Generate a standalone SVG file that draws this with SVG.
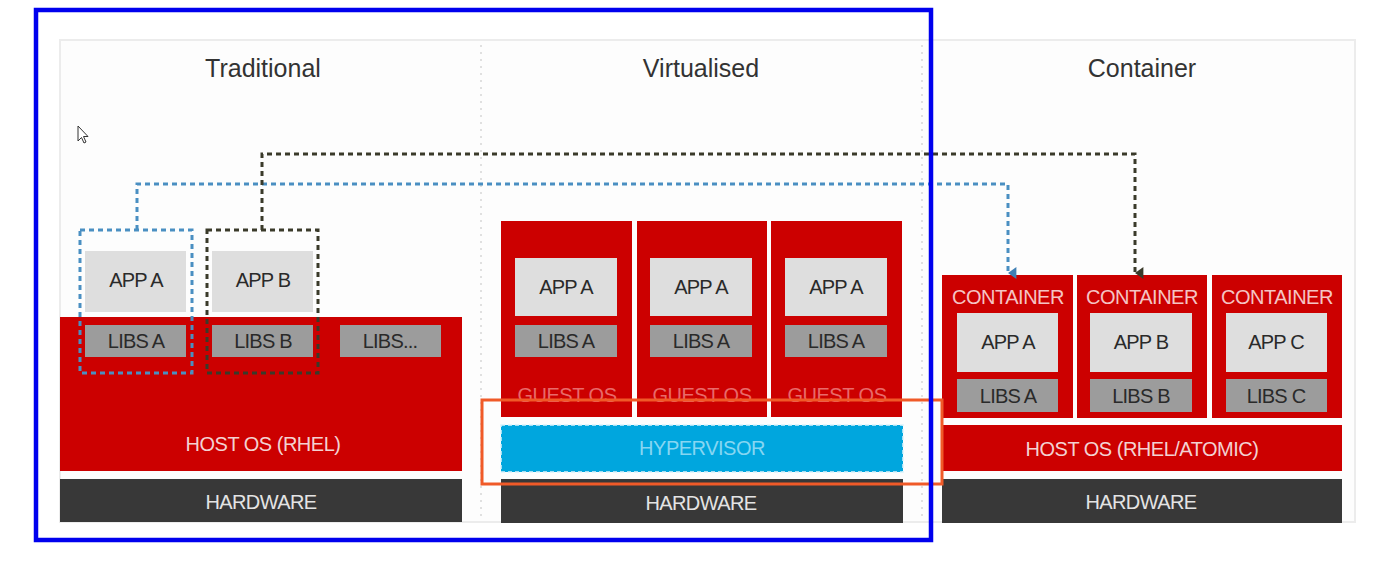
<svg xmlns="http://www.w3.org/2000/svg" width="1389" height="569" viewBox="0 0 1389 569">
<defs>
<style>
.t{font-family:"Liberation Sans",Arial,sans-serif;text-anchor:middle}
.title{font-size:25px;fill:#333}
.lbl{font-size:20px;fill:#2a2a2a;letter-spacing:-0.8px}
.red{fill:#cc0000}
.app{fill:#dedede}
.lib{fill:#9c9c9c}
.hw{fill:#383838}
.hwt{font-size:20px;fill:#e4e4e4;letter-spacing:-0.6px}
.ost{font-size:20px;fill:#f3d2d2;letter-spacing:-0.5px}
.sep{stroke:#d6d6d6;stroke-width:1.5;stroke-dasharray:2 5;fill:none}
.cb{stroke:#4a8fc2;stroke-width:3;stroke-dasharray:5 4;fill:none}
.cd{stroke:#3a3a2a;stroke-width:3;stroke-dasharray:5 4;fill:none}
</style>
<marker id="ab" viewBox="0 0 10 10" refX="5" refY="9" markerWidth="4" markerHeight="4" orient="auto-start-reverse" markerUnits="strokeWidth"><path d="M0,2 L10,2 L5,9 Z" fill="#3f7fb5"/></marker>
<marker id="ad" viewBox="0 0 10 10" refX="5" refY="9" markerWidth="4" markerHeight="4" orient="auto-start-reverse" markerUnits="strokeWidth"><path d="M0,2 L10,2 L5,9 Z" fill="#3a3a2a"/></marker>
</defs>
<rect x="0" y="0" width="1389" height="569" fill="#ffffff"/>
<rect x="60" y="40" width="1295" height="482" fill="#fdfdfd" stroke="#ececec" stroke-width="2"/>
<line class="sep" x1="481" y1="45" x2="481" y2="520"/>
<line class="sep" x1="922" y1="45" x2="922" y2="520"/>
<g id="titles">
<text class="t title" x="263" y="77">Traditional</text>
<text class="t title" x="701" y="77">Virtualised</text>
<text class="t title" x="1142" y="77">Container</text>
</g>
<path id="cursor" d="M78,126 L78,141 L81.5,137.5 L84,143 L86,142 L83.5,136.5 L88,136.5 Z" fill="#fff" stroke="#333" stroke-width="1"/>

<g id="traditional">
<g id="trad-hostos"><rect class="red" x="60" y="317" width="402" height="154"/><text class="t ost" x="263" y="451">HOST OS (RHEL)</text></g>
<g id="trad-hw"><rect class="hw" x="60" y="479" width="402" height="43"/><text class="t hwt" x="261" y="509">HARDWARE</text></g>
<g id="trad-appa"><rect class="app" x="85" y="251" width="101" height="61"/><text class="t lbl" x="136" y="287">APP A</text></g>
<g id="trad-appb"><rect class="app" x="212" y="251" width="101" height="61"/><text class="t lbl" x="263" y="287">APP B</text></g>
<g id="trad-libsa"><rect class="lib" x="85" y="325" width="101" height="32"/><text class="t lbl" x="136" y="348">LIBS A</text></g>
<g id="trad-libsb"><rect class="lib" x="212" y="325" width="101" height="32"/><text class="t lbl" x="263" y="348">LIBS B</text></g>
<g id="trad-libsx"><rect class="lib" x="340" y="325" width="101" height="32"/><text class="t lbl" x="390" y="348">LIBS...</text></g>
<rect id="grp-a" class="cb" x="80" y="230" width="112" height="143"/>
<rect id="grp-b" class="cd" x="207" y="230" width="111" height="143"/>
</g>

<g id="virtualised">
<g id="vm1"><rect class="red" x="501" y="221" width="131" height="196"/><rect class="app" x="515" y="258" width="102" height="58"/><text class="t lbl" x="566" y="294">APP A</text><rect class="lib" x="515" y="325" width="102" height="32"/><text class="t lbl" x="566" y="348">LIBS A</text><text class="t ost" x="567" y="402" style="fill:#e86a6a">GUEST OS</text></g>
<g id="vm2"><rect class="red" x="637" y="221" width="130" height="196"/><rect class="app" x="650" y="258" width="102" height="58"/><text class="t lbl" x="701" y="294">APP A</text><rect class="lib" x="650" y="325" width="102" height="32"/><text class="t lbl" x="701" y="348">LIBS A</text><text class="t ost" x="702" y="402" style="fill:#e86a6a">GUEST OS</text></g>
<g id="vm3"><rect class="red" x="771" y="221" width="131" height="196"/><rect class="app" x="785" y="258" width="102" height="58"/><text class="t lbl" x="836" y="294">APP A</text><rect class="lib" x="785" y="325" width="102" height="32"/><text class="t lbl" x="836" y="348">LIBS A</text><text class="t ost" x="837" y="402" style="fill:#e86a6a">GUEST OS</text></g>
<g id="hypervisor"><rect x="501" y="425" width="402" height="47" fill="#00a6de" stroke="#d8f2fb" stroke-width="1.5" stroke-dasharray="4 3"/><text class="t ost" x="702" y="455" style="fill:#86d6f2">HYPERVISOR</text></g>
<g id="virt-hw"><rect class="hw" x="501" y="479" width="402" height="44"/><text class="t hwt" x="701" y="510">HARDWARE</text></g>
</g>

<g id="container">
<g id="c1"><rect class="red" x="942" y="275" width="131" height="143"/><text class="t ost" x="1008" y="304" style="fill:#f5c4c4">CONTAINER</text><rect class="app" x="957" y="313" width="101" height="59"/><text class="t lbl" x="1008" y="349">APP A</text><rect class="lib" x="957" y="379" width="101" height="33"/><text class="t lbl" x="1008" y="403">LIBS A</text></g>
<g id="c2"><rect class="red" x="1077" y="275" width="130" height="143"/><text class="t ost" x="1142" y="304" style="fill:#f5c4c4">CONTAINER</text><rect class="app" x="1090" y="313" width="102" height="59"/><text class="t lbl" x="1141" y="349">APP B</text><rect class="lib" x="1090" y="379" width="102" height="33"/><text class="t lbl" x="1141" y="403">LIBS B</text></g>
<g id="c3"><rect class="red" x="1212" y="275" width="130" height="143"/><text class="t ost" x="1277" y="304" style="fill:#f5c4c4">CONTAINER</text><rect class="app" x="1226" y="313" width="101" height="59"/><text class="t lbl" x="1276" y="349">APP C</text><rect class="lib" x="1226" y="379" width="101" height="33"/><text class="t lbl" x="1276" y="403">LIBS C</text></g>
<g id="cont-hostos"><rect class="red" x="942" y="425" width="400" height="46"/><text class="t ost" x="1142" y="456">HOST OS (RHEL/ATOMIC)</text></g>
<g id="cont-hw"><rect class="hw" x="942" y="479" width="400" height="44"/><text class="t hwt" x="1141" y="509">HARDWARE</text></g>
</g>

<g id="connectors">
<path class="cb" d="M137,230 V184 H1008 V273" marker-end="url(#ab)"/>
<path class="cd" d="M262,230 V154 H1135 V273" marker-end="url(#ad)"/>
</g>

<g id="highlights">
<rect x="482" y="400" width="460" height="84" fill="none" stroke="#f05a28" stroke-width="3"/>
<rect x="36" y="10" width="895" height="530" fill="none" stroke="#0000ee" stroke-width="4.5"/>
</g>
</svg>
